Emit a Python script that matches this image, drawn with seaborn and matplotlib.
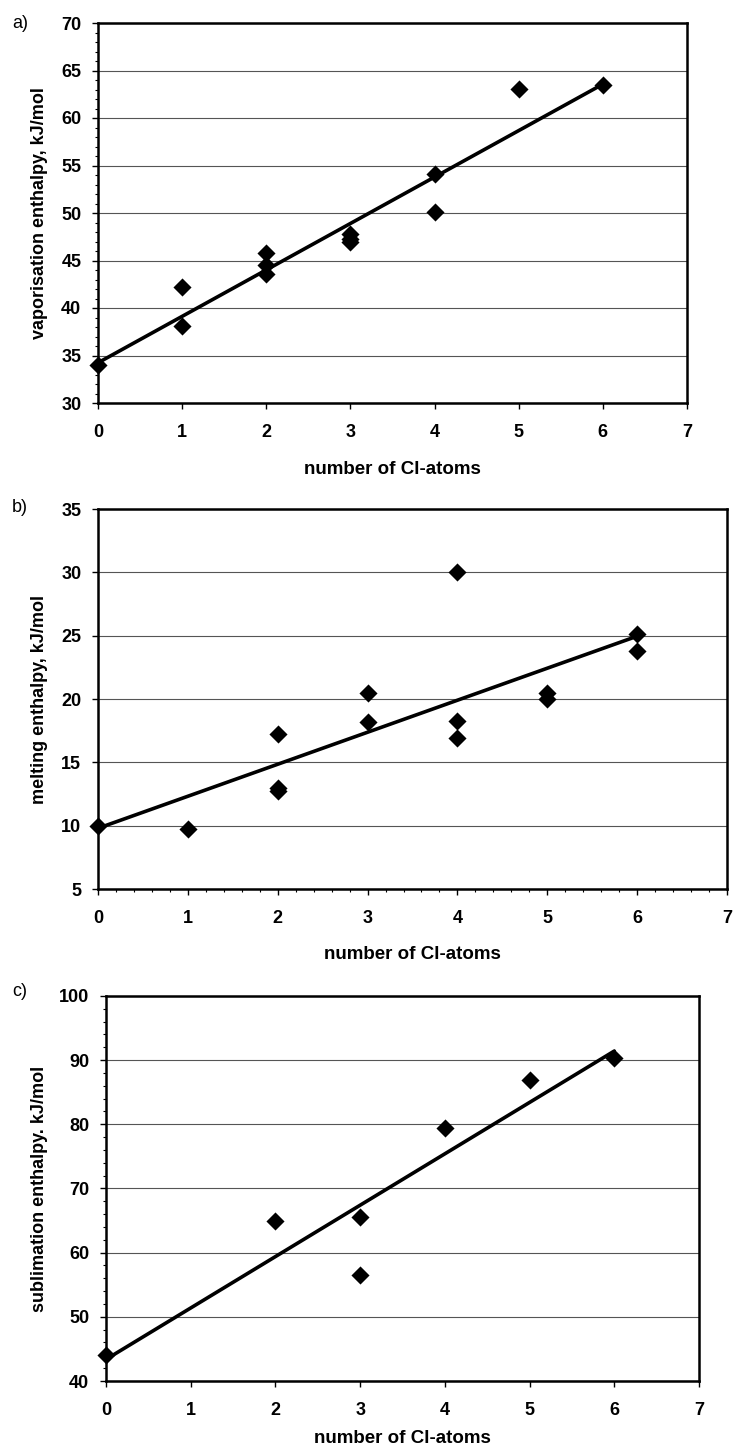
import matplotlib
matplotlib.use("Agg")
import matplotlib.pyplot as plt
from matplotlib.ticker import MultipleLocator
import seaborn as sns

# a) vaporisation enthalpy
vap_cl = [0, 1, 1, 2, 2, 2, 3, 3, 3, 4, 4, 5, 6]
vap_h = [34.0, 42.2, 38.1, 45.8, 44.5, 43.6, 47.8, 47.3, 46.9, 54.1, 50.1, 63.1, 63.5]

# b) melting enthalpy
melt_cl = [0, 1, 2, 2, 2, 3, 3, 4, 4, 4, 5, 5, 6, 6]
melt_h = [10.0, 9.7, 17.2, 13.0, 12.7, 20.5, 18.2, 30.0, 18.3, 16.9, 20.5, 20.0, 25.1, 23.8]

# c) sublimation enthalpy
sub_cl = [0, 2, 3, 3, 4, 5, 6]
sub_h = [44.1, 64.9, 65.6, 56.5, 79.5, 86.9, 90.3]

x_ticks = [0, 1, 2, 3, 4, 5, 6, 7]
xlabel = "number of Cl-atoms"

sns.set_style("white")
plt.rcParams['font.family'] = ['Liberation Sans', 'DejaVu Sans']
plt.rcParams['text.color'] = 'black'
plt.rcParams['axes.labelcolor'] = 'black'
plt.rcParams['xtick.color'] = 'black'
plt.rcParams['ytick.color'] = 'black'

W, H = 736, 1455
fig = plt.figure(figsize=(W / 100, H / 100), dpi=100)


def make_axes(left, right, top, bottom):
    return fig.add_axes([left / W, 1 - bottom / H, (right - left) / W, (bottom - top) / H])


def draw_panel(ax, x, y, ylim, ystep, ylabel, letter, letter_y, y_minor=None, x_minor=None,
               xlabel_y=-0.15):
    sns.regplot(x=x, y=y, ax=ax, ci=None, truncate=True, marker="D",
                scatter_kws={"color": "black", "s": 85, "zorder": 3, "linewidths": 0,
                             "alpha": 1, "clip_on": False},
                line_kws={"color": "black", "lw": 2.6, "zorder": 4, "clip_on": False})
    ax.set_xlim(0, 7)
    ax.set_ylim(*ylim)
    ax.set_xticks(x_ticks)
    ax.yaxis.set_major_locator(MultipleLocator(ystep))
    if y_minor:
        ax.yaxis.set_minor_locator(MultipleLocator(y_minor))
    if x_minor:
        ax.xaxis.set_minor_locator(MultipleLocator(x_minor))
    ax.grid(axis="y", color="#555555", lw=0.8)
    ax.set_axisbelow(True)
    for s in ax.spines.values():
        s.set_color("black")
        s.set_linewidth(1.8)
    ax.tick_params(axis="both", which="both", bottom=True, left=True, top=False, right=False)
    ax.tick_params(axis="both", which="major", direction="out", length=4, width=1,
                   labelsize=13, colors="black")
    ax.tick_params(axis="x", which="major", pad=11)
    ax.tick_params(axis="y", which="major", pad=8)
    ax.tick_params(axis="both", which="minor", direction="out", length=2.5, width=0.8,
                   colors="black")
    for lab in ax.get_xticklabels() + ax.get_yticklabels():
        lab.set_fontweight("bold")
    ax.set_xlabel(xlabel, fontsize=13.5, fontweight="bold")
    ax.set_ylabel(ylabel, fontsize=13, fontweight="bold")
    ax.xaxis.set_label_coords(0.5, xlabel_y)
    ax.yaxis.label.set_verticalalignment("center")
    pos = ax.get_position()
    ax.yaxis.set_label_coords((40 / W - pos.x0) / pos.width, 0.5)
    fig.text(20 / W, 1 - letter_y / H, letter, fontsize=13, ha="center", va="center")


ax_a = make_axes(98, 687, 23, 403)
draw_panel(ax_a, vap_cl, vap_h, (30, 70), 5, "vaporisation enthalpy, kJ/mol", "a)", 23,
           y_minor=1, xlabel_y=-0.153)

ax_b = make_axes(98, 727, 509, 889)
draw_panel(ax_b, melt_cl, melt_h, (5, 35), 5, "melting enthalpy, kJ/mol", "b)", 507,
           x_minor=0.2, xlabel_y=-0.150)

ax_c = make_axes(106, 699, 996, 1381)
draw_panel(ax_c, sub_cl, sub_h, (40, 100), 10, "sublimation enthalpy. kJ/mol", "c)", 992,
           y_minor=2, xlabel_y=-0.127)

fig.savefig("out.png", dpi=100)
